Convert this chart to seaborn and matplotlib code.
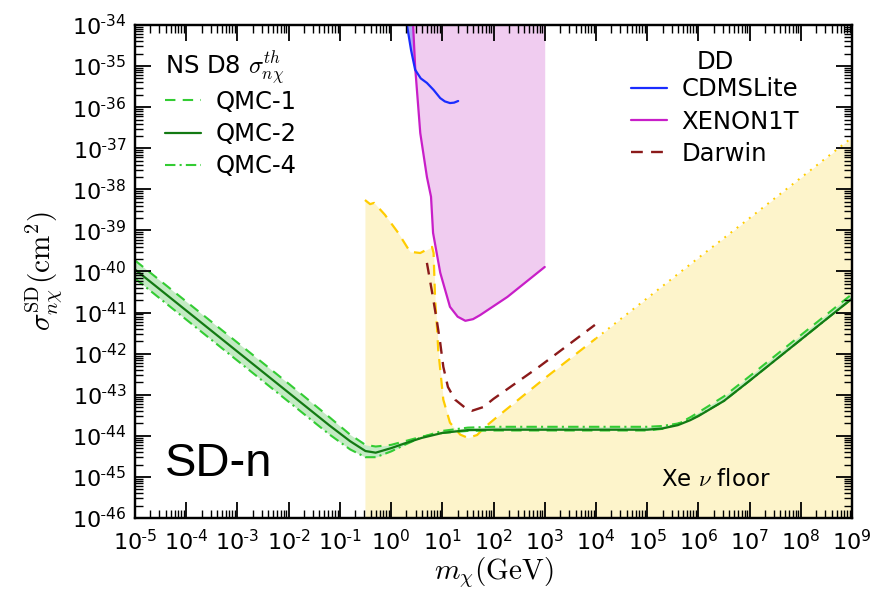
import numpy as np
import matplotlib
matplotlib.use("Agg")
import matplotlib.pyplot as plt
import seaborn as sns
from matplotlib.lines import Line2D
from matplotlib.ticker import LogLocator, FuncFormatter, NullFormatter

# ---- NS capture threshold cross sections (log10 m [GeV], log10 sigma [cm^2]) ----
qmc_logm = [-5, -4, -3, -2, -1.2, -0.8, -0.5, -0.3, 0.0, 0.3, 0.6, 1.0, 1.5, 2.0,
            3.0, 4.0, 5.0, 5.3, 5.6, 5.84, 6.0, 6.5, 7.0, 7.5, 8.0, 8.5, 9.0]
qmc1_logs = [-39.73, -40.73, -41.73, -42.73, -43.55, -43.97, -44.22, -44.26, -44.22,
             -44.12, -44.02, -43.93, -43.88, -43.87, -43.87, -43.87, -43.87, -43.83,
             -43.71, -43.55, -43.43, -43.04, -42.55, -42.05, -41.55, -41.05, -40.55]
qmc2_logs = [-39.95, -40.95, -41.95, -42.95, -43.75, -44.13, -44.37, -44.41, -44.30,
             -44.17, -44.05, -43.93, -43.86, -43.85, -43.85, -43.85, -43.85, -43.82,
             -43.74, -43.62, -43.52, -43.15, -42.66, -42.16, -41.66, -41.16, -40.66]
qmc4_logs = [-40.17, -41.17, -42.17, -43.17, -43.97, -44.33, -44.52, -44.52, -44.38,
             -44.20, -44.03, -43.88, -43.80, -43.78, -43.78, -43.78, -43.78, -43.76,
             -43.70, -43.60, -43.51, -43.15, -42.66, -42.16, -41.66, -41.16, -40.66]

# ---- Direct detection limits ----
cdms_logm = [0.31, 0.39, 0.47, 0.58, 0.70, 0.83, 0.96, 1.05, 1.15, 1.23, 1.31]
cdms_logs = [-34.0, -34.61, -35.09, -35.30, -35.41, -35.58, -35.78, -35.86, -35.90, -35.89, -35.85]

xenon_logm = [0.43, 0.47, 0.57, 0.70, 0.78, 0.82, 0.96, 1.15, 1.30, 1.45, 1.60, 1.74, 2.27, 3.0]
xenon_logs = [-34.0, -35.02, -36.63, -37.70, -38.18, -39.06, -40.03, -40.86, -41.10,
              -41.20, -41.16, -41.06, -40.62, -39.89]

darwin_logm = [0.70, 0.80, 0.86, 0.90, 0.96, 1.02, 1.11, 1.25, 1.45, 1.58, 1.80, 2.00, 2.91, 3.98]
darwin_logs = [-39.79, -40.50, -40.95, -41.25, -41.74, -42.32, -42.81, -43.12, -43.32,
               -43.39, -43.30, -43.10, -42.30, -41.30]

# ---- Xenon neutrino floor ----
floor_logm = [-0.51, -0.41, -0.33, -0.12, 0.14, 0.37, 0.57, 0.80, 0.83, 0.86, 0.90, 0.92,
              1.02, 1.15, 1.35, 1.50, 1.68, 1.84, 2.07, 3.0, 4.0]
floor_logs = [-38.26, -38.36, -38.33, -38.62, -39.06, -39.52, -39.55, -39.40, -39.55,
              -40.69, -41.42, -41.90, -43.12, -43.68, -43.97, -44.05, -43.98, -43.78,
              -43.54, -42.60, -41.63]
floor_tail_logm = [4.0, 5.0, 6.0, 7.0, 8.0, 9.0]
floor_tail_logs = [-41.63, -40.65, -39.67, -38.70, -37.72, -36.74]

x_decades = list(range(-5, 10))
y_decades = list(range(-46, -33))

def p10(a):
    return 10.0 ** np.asarray(a, dtype=float)

def dec_label(v, pos):
    e = int(round(np.log10(v)))
    if e < 0:
        return r"$\mathdefault{10^{\text{-}%d}}$" % (-e)
    return r"$\mathdefault{10^{%d}}$" % e

def log_axes(a, labels):
    a.set_xscale("log")
    a.set_yscale("log")
    a.set_xlim(10.0 ** x_decades[0], 10.0 ** x_decades[-1])
    a.set_ylim(10.0 ** y_decades[0], 10.0 ** y_decades[-1])
    for axis in (a.xaxis, a.yaxis):
        axis.set_major_locator(LogLocator(base=10, numticks=40))
        axis.set_minor_locator(LogLocator(base=10, subs=np.arange(2, 10), numticks=400))
        axis.set_major_formatter(FuncFormatter(dec_label) if labels else NullFormatter())
        axis.set_minor_formatter(NullFormatter())

sns.set_style("ticks")
plt.rcParams.update({"font.family": ["DejaVu Sans"], "mathtext.fontset": "cm"})

fig = plt.figure(figsize=(8.72, 5.98), dpi=100)
rect = [135 / 872, 1 - 518 / 598, 717 / 872, 493 / 598]
ax = fig.add_axes(rect)
log_axes(ax, labels=True)
ymin = 10.0 ** y_decades[0]
ymax = 10.0 ** y_decades[-1]

# neutrino floor region
fl_m = np.concatenate([p10(floor_logm), p10(floor_tail_logm[1:])])
fl_s = np.concatenate([p10(floor_logs), p10(floor_tail_logs[1:])])
ax.fill_between(fl_m, ymin, fl_s, color="#fdf4cb", lw=0, zorder=1)
sns.lineplot(x=p10(floor_logm), y=p10(floor_logs), ax=ax, sort=False, color="#ffcc00",
             lw=1.6, linestyle=(0, (5, 3.5)), zorder=3)
sns.lineplot(x=p10(floor_tail_logm), y=p10(floor_tail_logs), ax=ax, sort=False,
             color="#ffcc00", lw=1.4, linestyle=(0, (1, 3)), zorder=3)

# excluded regions from direct detection
ax.fill_between(p10(cdms_logm), p10(cdms_logs), ymax, color="#a9a9f2", lw=0, zorder=1.5)
ax.fill_between(p10(xenon_logm), p10(xenon_logs), ymax, color="#f0ccf0", lw=0, zorder=2)
sns.lineplot(x=p10(xenon_logm), y=p10(xenon_logs), ax=ax, sort=False, color="#c81ec8",
             lw=1.6, zorder=4)
sns.lineplot(x=p10(cdms_logm), y=p10(cdms_logs), ax=ax, sort=False, color="#1a2cff",
             lw=1.6, zorder=4)
sns.lineplot(x=p10(darwin_logm), y=p10(darwin_logs), ax=ax, sort=False, color="#8b1a1a",
             lw=1.7, linestyle=(0, (5, 3.5)), zorder=4)

# NS threshold band and curves
qm = p10(qmc_logm)
ax.fill_between(qm, p10(qmc4_logs), p10(qmc1_logs), color="#c4ebc4", lw=0, zorder=2.5)
sns.lineplot(x=qm, y=p10(qmc1_logs), ax=ax, sort=False, color="#33cc33", lw=1.5,
             linestyle=(0, (5, 3.5)), zorder=5)
sns.lineplot(x=qm, y=p10(qmc4_logs), ax=ax, sort=False, color="#33cc33", lw=1.5,
             linestyle=(0, (5, 2, 1, 2)), zorder=5)
sns.lineplot(x=qm, y=p10(qmc2_logs), ax=ax, sort=False, color="#137a13", lw=1.6, zorder=6)

log_axes(ax, labels=True)
ax.tick_params(which="both", length=0, labelcolor="black")
ax.tick_params(which="major", labelsize=16)
ax.tick_params(axis="x", which="major", pad=8)
ax.tick_params(axis="y", which="major", pad=6)
ax.set_xlabel(r"$m_\chi(\mathrm{GeV})$", fontsize=21, labelpad=1, color="black")
ax.set_ylabel(r"$\sigma^{\rm SD}_{n\chi}(\mathrm{cm}^2)$", fontsize=21, labelpad=5,
              color="black")
for s in ax.spines.values():
    s.set_linewidth(1.6)
    s.set_color("black")

ax.text(0.042, 0.085, "SD-n", transform=ax.transAxes, fontsize=34, color="black",
        family=["Liberation Sans", "DejaVu Sans"], zorder=7)
ax.text(0.81, 0.065, r"Xe $\nu$ floor", transform=ax.transAxes, fontsize=16.5,
        ha="center", color="black", zorder=7)

# legends
h_ns = [Line2D([], [], color="#33cc33", lw=1.5, linestyle=(0, (5, 3.5))),
        Line2D([], [], color="#137a13", lw=1.6),
        Line2D([], [], color="#33cc33", lw=1.5, linestyle=(0, (5, 2, 1, 2)))]
leg1 = ax.legend(h_ns, ["QMC-1", "QMC-2", "QMC-4"], title=r"NS D8 $\sigma^{th}_{n\chi}$",
                 loc="upper left", bbox_to_anchor=(0.028, 0.969), frameon=False,
                 fontsize=17.5, title_fontsize=17.5, handlelength=1.5, handletextpad=0.6,
                 labelspacing=0.34, borderaxespad=0, labelcolor="black")
leg1._legend_box.sep = 2
leg1._legend_box.align = "left"
ax.add_artist(leg1)
h_dd = [Line2D([], [], color="#1a2cff", lw=1.6),
        Line2D([], [], color="#c81ec8", lw=1.6),
        Line2D([], [], color="#8b1a1a", lw=1.7, linestyle=(0, (5, 3.5)))]
leg2 = ax.legend(h_dd, ["CDMSLite", "XENON1T", "Darwin"], title="DD",
                 loc="upper right", bbox_to_anchor=(0.94, 0.968), frameon=False,
                 fontsize=17.5, title_fontsize=17.5, handlelength=1.5, handletextpad=0.6,
                 labelspacing=0.34, borderaxespad=0, labelcolor="black")
leg2._legend_box.sep = 2
for lg in (leg1, leg2):
    lg.set_zorder(8)
    lg.get_title().set_color("black")

# transparent frame axes on top carrying the inward tick marks
frame = fig.add_axes(rect, label="frame")
frame.set_zorder(ax.get_zorder() + 1)
frame.patch.set_visible(False)
log_axes(frame, labels=False)
frame.tick_params(which="both", direction="in", top=True, right=True, bottom=True,
                  left=True, labelbottom=False, labelleft=False, color="black")
frame.tick_params(which="major", length=11.5, width=1.3)
frame.tick_params(which="minor", length=5.5, width=1.0)
for s in frame.spines.values():
    s.set_linewidth(1.6)
    s.set_color("black")

fig.savefig("out.png", dpi=100)
